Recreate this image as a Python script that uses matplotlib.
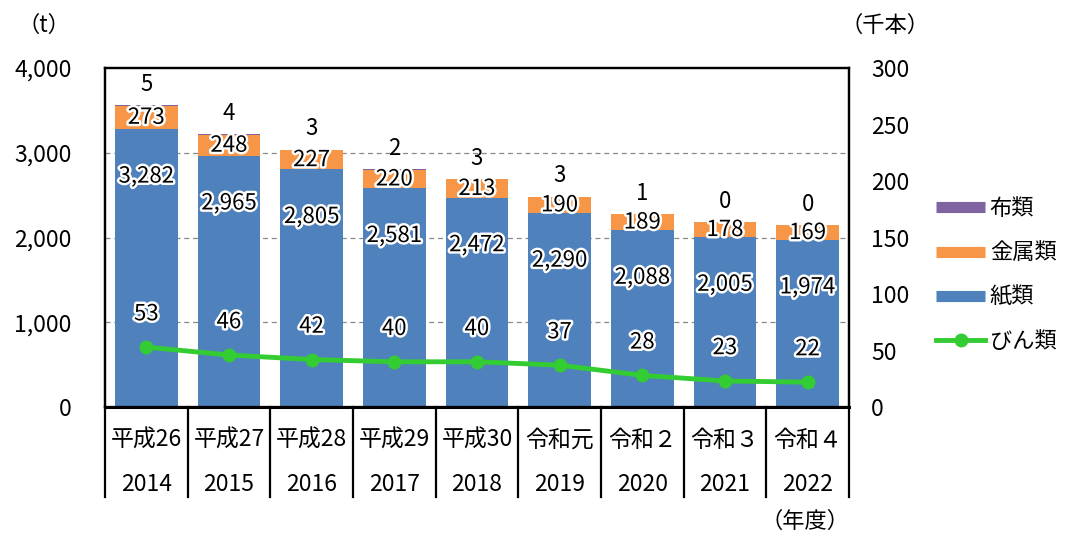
import numpy as np
import matplotlib
matplotlib.use('Agg')
import matplotlib.pyplot as plt
import matplotlib.patheffects as pe
from matplotlib.lines import Line2D

plt.rcParams['font.family'] = ['Noto Sans CJK JP', 'DejaVu Sans']

# Data
#==========================================================
era_labels  = ['平成26', '平成27', '平成28', '平成29', '平成30', '令和元', '令和２', '令和３', '令和４']
year_labels = ['2014', '2015', '2016', '2017', '2018', '2019', '2020', '2021', '2022']
paper  = [3282, 2965, 2805, 2581, 2472, 2290, 2088, 2005, 1974]   # 紙類 (t)
metal  = [273, 248, 227, 220, 213, 190, 189, 178, 169]            # 金属類 (t)
cloth  = [5, 4, 3, 2, 3, 3, 1, 0, 0]                              # 布類 (t)
bottle = [53, 46, 42, 40, 40, 37, 28, 23, 22]                     # びん類 (千本)

c_paper  = '#4f81bd'
c_metal  = '#f79646'
c_cloth  = '#8064a2'
c_bottle = '#33cc33'

fig = plt.figure(figsize=(10.68, 5.39), dpi=100)
ax = fig.add_axes([0.0983, 0.2449, 0.6966, 0.6289])
ax2 = ax.twinx()

x = np.arange(len(paper))
paper = np.array(paper)
metal = np.array(metal)
cloth = np.array(cloth)
w = 0.76

ax.bar(x, paper, w, color=c_paper, zorder=2)
ax.bar(x, metal, w, bottom=paper, color=c_metal, zorder=2)
ax.bar(x, cloth, w, bottom=paper + metal, color=c_cloth, zorder=2)

ax.set_xlim(-0.5, len(x) - 0.5)
ax.set_ylim(0, 4000)
ax.set_yticks([0, 1000, 2000, 3000, 4000])
ax.set_yticklabels(['0', '1,000', '2,000', '3,000', '4,000'])
ax.tick_params(axis='y', length=0, pad=24, labelsize=16.5)
ax.set_xticks([])
for yv in [1000, 2000, 3000]:
    ax.axhline(yv, color='#888888', ls=(0, (4, 3)), lw=0.9, zorder=1)

ax2.plot(x, bottle, color=c_bottle, lw=3.5, marker='o', ms=9, zorder=5)
ax2.set_ylim(0, 300)
ax2.set_yticks([0, 50, 100, 150, 200, 250, 300])
ax2.tick_params(axis='y', length=0, pad=16, labelsize=16.5)

for a in (ax, ax2):
    for s in a.spines.values():
        s.set_color('black')
        s.set_linewidth(1.6)
ax.spines['bottom'].set_linewidth(2.2)

# Value labels
stroke = [pe.withStroke(linewidth=3.5, foreground='white')]
for i in x:
    ax.annotate('{:,}'.format(paper[i]), (i, paper[i]), xytext=(0, -34), textcoords='offset points',
                ha='center', va='center', fontsize=16, path_effects=stroke, zorder=6)
    ax.annotate('{:d}'.format(metal[i]), (i, paper[i] + metal[i] / 2.), ha='center', va='center',
                fontsize=16, path_effects=stroke, zorder=6)
    ax.annotate('{:d}'.format(cloth[i]), (i, paper[i] + metal[i] + cloth[i]), xytext=(0, 15),
                textcoords='offset points', ha='center', va='center', fontsize=16, zorder=6)
    ax2.annotate('{:d}'.format(bottle[i]), (i, bottle[i]), xytext=(0, 24), textcoords='offset points',
                 ha='center', va='center', fontsize=16, path_effects=stroke, zorder=6)

# Table under the axis
for i in range(len(x) + 1):
    ax.plot([i - 0.5, i - 0.5], [0, -1060], color='black', lw=1.6, clip_on=False)
for i in x:
    ax.text(i, -390, era_labels[i], ha='center', va='center', fontsize=16.5)
    ax.text(i, -920, year_labels[i], ha='center', va='center', fontsize=16.5)

fig.text(0.041, 0.953, '（t）', ha='center', va='center', fontsize=16)
fig.text(0.829, 0.953, '（千本）', ha='center', va='center', fontsize=16)
fig.text(0.754, 0.032, '（年度）', ha='center', va='center', fontsize=16)

handles = [Line2D([], [], color=c_cloth, lw=8, solid_capstyle='butt'),
           Line2D([], [], color=c_metal, lw=8, solid_capstyle='butt'),
           Line2D([], [], color=c_paper, lw=8, solid_capstyle='butt'),
           Line2D([], [], color=c_bottle, lw=3.5, marker='o', ms=9)]
fig.legend(handles, ['布類', '金属類', '紙類', 'びん類'], loc='center left',
           bbox_to_anchor=(0.858, 0.49), frameon=False, fontsize=16,
           handlelength=2.2, handletextpad=0.2, labelspacing=0.95)

fig.savefig('out.png', dpi=100)
